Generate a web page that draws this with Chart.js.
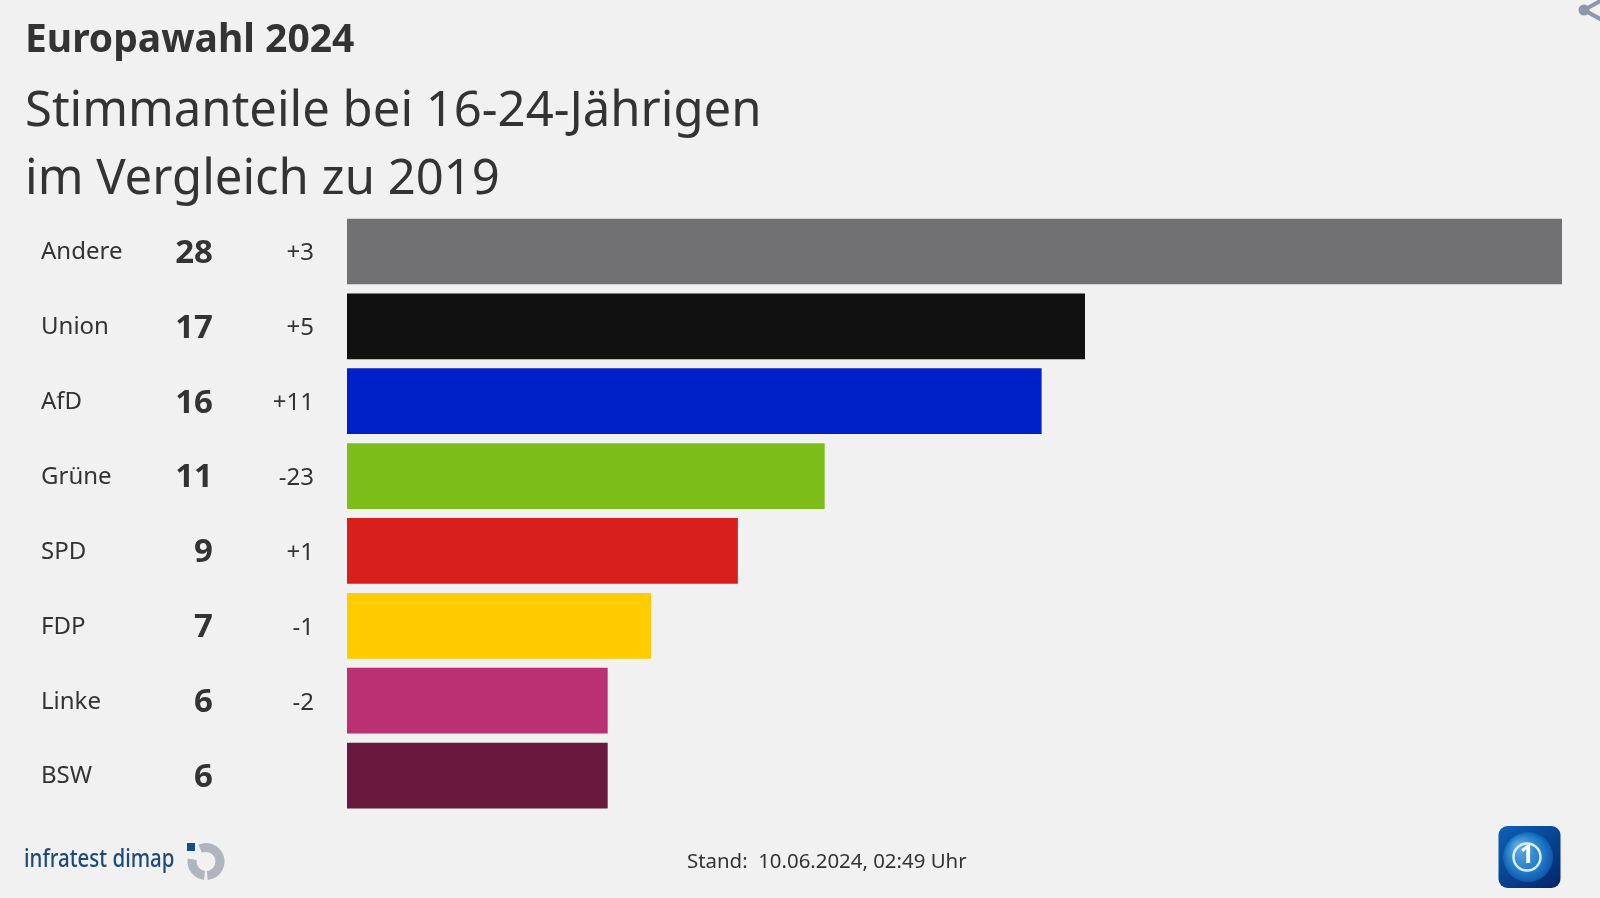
<!DOCTYPE html>
<html>
<head>
<meta charset="utf-8">
<style>
  html, body { margin: 0; padding: 0; background: #f1f1f1; }
  canvas { display: block; }
</style>
</head>
<body>
<canvas id="myChart" width="1600" height="898"></canvas>
<script src="https://cdn.jsdelivr.net/npm/chart.js@4"></script>
<script>
const parties = ['Andere', 'Union', 'AfD', 'Grüne', 'SPD', 'FDP', 'Linke', 'BSW'];
const shares = [28, 17, 16, 11, 9, 7, 6, 6];
const changes = ['+3', '+5', '+11', '-23', '+1', '-1', '-2', ''];
const partyColors = ['#717173', '#111111', '#0020c8', '#7cbd1a', '#d81f1b', '#ffcc00', '#bb2f73', '#69193e'];

const FONT = '"Noto Sans", sans-serif';
const TEXT = '#333333';

// left columns: party name, share, change, one row per bar
const rowLabels = {
	id: 'rowLabels',
	afterDatasetsDraw(chart) {
		const c = chart.ctx;
		const y = chart.scales.y;
		c.save();
		c.fillStyle = TEXT;
		c.textBaseline = 'middle';
		parties.forEach((name, i) => {
			const py = y.getPixelForValue(i);
			c.textAlign = 'left';
			c.font = '24px ' + FONT;
			c.fillText(name, 41, py + 1);
			c.textAlign = 'right';
			c.font = 'bold 33px ' + FONT;
			c.fillText(shares[i], 213, py + 2);
			c.font = '24px ' + FONT;
			c.fillText(changes[i], 314, py + 2);
		});
		c.restore();
	}
};

// footer line, logos and the share icon
const decorations = {
	id: 'decorations',
	afterDraw(chart) {
		const c = chart.ctx;
		c.save();

		c.fillStyle = TEXT;
		c.textBaseline = 'alphabetic';
		c.font = '20.4px ' + FONT;
		c.textAlign = 'left';
		c.fillText('Stand:  10.06.2024, 02:49 Uhr', 687, 868);

		// infratest dimap, squeezed to the narrow wordmark width
		c.save();
		c.translate(24, 867);
		c.scale(0.82, 1);
		c.fillStyle = '#1c4a78';
		c.font = '500 25px ' + FONT;
		c.fillText('infratest dimap', 0, 0);
		c.restore();

		c.fillStyle = '#174b8c';
		c.fillRect(187, 843, 8, 8);
		c.strokeStyle = '#aeb5bc';
		c.lineWidth = 9;
		c.beginPath();
		c.arc(206, 861.5, 14, -2, 1.48);
		c.stroke();
		c.beginPath();
		c.arc(206, 861.5, 14, 1.68, 3.3);
		c.stroke();

		// tagesschau logo
		const g = c.createLinearGradient(1500, 826, 1550, 888);
		g.addColorStop(0, '#0b62b8');
		g.addColorStop(1, '#04296f');
		c.fillStyle = g;
		c.beginPath();
		c.roundRect(1498.5, 826, 62, 62, 9);
		c.fill();
		const globe = c.createRadialGradient(1518, 846, 3, 1528, 857, 26);
		globe.addColorStop(0, '#5aa9de');
		globe.addColorStop(0.7, '#1f79c6');
		globe.addColorStop(1, '#0d56a6');
		c.fillStyle = globe;
		c.beginPath();
		c.arc(1528, 857, 25, 0, Math.PI * 2);
		c.fill();
		c.strokeStyle = '#dcebf6';
		c.lineWidth = 2.5;
		c.beginPath();
		c.arc(1527, 857, 13.5, 0, Math.PI * 2);
		c.stroke();
		c.fillStyle = '#ffffff';
		c.font = 'bold 25px ' + FONT;
		c.textAlign = 'center';
		c.textBaseline = 'middle';
		c.fillText('1', 1527, 856);

		// share icon, cut off at the page corner
		c.strokeStyle = '#8e97a8';
		c.fillStyle = '#8e97a8';
		c.lineWidth = 4;
		c.beginPath();
		c.moveTo(1602, 0);
		c.lineTo(1584, 10);
		c.lineTo(1602, 20);
		c.stroke();
		c.beginPath();
		c.arc(1584, 10, 5.5, 0, Math.PI * 2);
		c.fill();

		c.restore();
	}
};

new Chart(document.getElementById('myChart'), {
	type: 'bar',
	data: {
		labels: parties,
		datasets: [{
			data: shares,
			backgroundColor: partyColors,
			barThickness: 65
		}]
	},
	options: {
		indexAxis: 'y',
		responsive: false,
		animation: false,
		layout: { padding: { left: 25, right: 38, top: 17, bottom: 85 } },
		scales: {
			x: { display: false, min: 0, max: 28 },
			y: {
				grid: { display: false },
				border: { display: false },
				ticks: { display: false },
				afterFit(scale) { scale.width = 322; }
			}
		},
		plugins: {
			legend: { display: false },
			tooltip: { enabled: false },
			title: {
				display: true,
				text: 'Europawahl 2024',
				align: 'start',
				color: TEXT,
				font: { family: FONT, size: 39, weight: 'bold', lineHeight: 1.2 },
				padding: { top: 0, bottom: 14 }
			},
			subtitle: {
				display: true,
				text: ['Stimmanteile bei 16-24-Jährigen', 'im Vergleich zu 2019'],
				align: 'start',
				color: TEXT,
				font: { family: FONT, size: 49, weight: 'normal', lineHeight: 1.39 },
				padding: { top: 0, bottom: 0 }
			}
		}
	},
	plugins: [rowLabels, decorations]
});
</script>
</body>
</html>
